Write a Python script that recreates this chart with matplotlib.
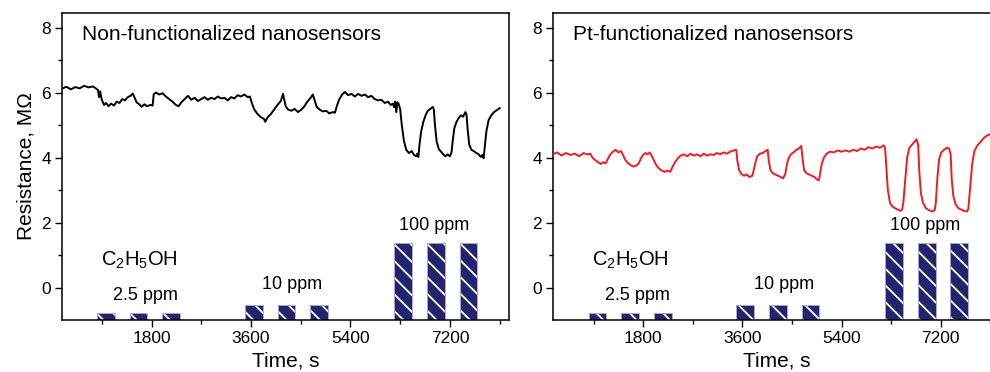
import matplotlib
matplotlib.use("Agg")
import matplotlib.pyplot as plt

plt.rcParams["font.family"] = ["Liberation Sans", "DejaVu Sans"]
plt.rcParams["mathtext.fontset"] = "custom"
plt.rcParams["mathtext.rm"] = "Liberation Sans"
plt.rcParams["mathtext.it"] = "Liberation Sans"
plt.rcParams["hatch.linewidth"] = 1.3

# gas pulses (start time, s) and bar tops (arb. units on the resistance axis)
pulse_start = [815, 1405, 1995, 3490, 4085, 4675, 6190, 6785, 7375]
pulse_len = 320
pulse_top = [-0.77, -0.77, -0.77, -0.53, -0.53, -0.53, 1.37, 1.37, 1.37]

# non-functionalized sensor
t_bare = [180, 260, 340, 420, 500, 580, 660, 740, 800, 830, 850, 870, 900, 940, 980,
          1020, 1070, 1120, 1170, 1220, 1270, 1320, 1370, 1420, 1460, 1490, 1530, 1580,
          1620, 1670, 1720, 1780, 1820, 1840, 1880, 1940, 2000, 2060, 2120, 2180, 2240,
          2290, 2340, 2400, 2460, 2520, 2580, 2640, 2700, 2760, 2820, 2880, 2940, 3000,
          3060, 3120, 3180, 3240, 3300, 3360, 3420, 3480, 3540, 3580, 3620, 3660, 3720,
          3780, 3830, 3860, 3900, 3960, 4020, 4080, 4140, 4180, 4200, 4230, 4270, 4330,
          4390, 4450, 4500, 4560, 4620, 4680, 4720, 4750, 4790, 4840, 4900, 4960, 5020,
          5080, 5120, 5160, 5200, 5250, 5300, 5360, 5420, 5480, 5540, 5600, 5660, 5720,
          5780, 5840, 5900, 5960, 6020, 6080, 6130, 6170, 6190, 6210, 6230, 6250, 6270,
          6300, 6330, 6370, 6410, 6460, 6510, 6550, 6590, 6610, 6630, 6650, 6680, 6720,
          6760, 6800, 6850, 6890, 6910, 6930, 6960, 7000, 7040, 7080, 7120, 7160, 7200,
          7230, 7250, 7280, 7320, 7360, 7400, 7440, 7480, 7500, 7520, 7550, 7590, 7630,
          7680, 7720, 7760, 7790, 7810, 7830, 7860, 7900, 7950, 8000, 8050, 8100]
r_bare = [6.12, 6.18, 6.10, 6.17, 6.13, 6.21, 6.16, 6.19, 6.12, 6.08, 5.86, 6.04, 5.78, 5.62, 5.68,
          5.58, 5.66, 5.60, 5.72, 5.68, 5.80, 5.76, 5.86, 5.90, 5.97, 5.86, 5.70, 5.64,
          5.56, 5.64, 5.58, 5.62, 5.60, 5.95, 6.00, 5.94, 5.98, 5.88, 5.80, 5.72, 5.62,
          5.58, 5.70, 5.80, 5.90, 5.78, 5.84, 5.74, 5.80, 5.86, 5.78, 5.84, 5.80, 5.88,
          5.82, 5.84, 5.76, 5.86, 5.82, 5.92, 5.88, 5.94, 5.86, 5.88, 5.66, 5.48, 5.34,
          5.24, 5.20, 5.10, 5.24, 5.34, 5.48, 5.62, 5.74, 5.96, 5.80, 5.58, 5.48, 5.44,
          5.50, 5.40, 5.46, 5.56, 5.72, 5.84, 5.94, 5.78, 5.56, 5.48, 5.42, 5.44, 5.36,
          5.40, 5.38, 5.62, 5.80, 5.94, 6.02, 5.92, 5.96, 5.88, 5.96, 5.90, 5.94, 5.86,
          5.90, 5.80, 5.76, 5.78, 5.68, 5.72, 5.62, 5.66, 5.55, 5.72, 5.40, 5.70, 5.66,
          5.50, 5.00, 4.50, 4.24, 4.14, 4.20, 4.08, 4.04, 4.12, 4.02, 4.40, 4.80, 5.10,
          5.30, 5.44, 5.50, 5.56, 5.48, 5.00, 4.50, 4.26, 4.18, 4.10, 4.04, 4.10, 4.04,
          4.16, 4.50, 4.90, 5.10, 5.22, 5.30, 5.26, 5.40, 5.34, 4.90, 4.40, 4.24, 4.20,
          4.14, 4.10, 4.02, 4.08, 3.98, 4.30, 4.80, 5.15, 5.30, 5.40, 5.46, 5.52]

# Pt-functionalized sensor
t_pt = [160, 240, 320, 400, 480, 560, 640, 720, 780, 840, 880, 930, 980, 1030, 1080,
        1120, 1160, 1200, 1250, 1300, 1350, 1400, 1440, 1480, 1530, 1580, 1630, 1680,
        1720, 1760, 1800, 1840, 1880, 1920, 1960, 2000, 2040, 2090, 2140, 2190, 2240,
        2290, 2330, 2380, 2430, 2480, 2540, 2600, 2660, 2720, 2780, 2840, 2900, 2960,
        3020, 3080, 3140, 3200, 3260, 3320, 3380, 3440, 3490, 3510, 3540, 3580, 3630,
        3680, 3730, 3780, 3800, 3830, 3870, 3920, 3970, 4020, 4060, 4080, 4110, 4150,
        4200, 4250, 4300, 4340, 4380, 4410, 4440, 4480, 4530, 4580, 4630, 4670, 4690,
        4720, 4760, 4810, 4860, 4910, 4960, 4990, 5010, 5040, 5080, 5130, 5190, 5260,
        5330, 5400, 5470, 5540, 5610, 5680, 5750, 5820, 5890, 5960, 6030, 6100, 6160,
        6190, 6210, 6240, 6280, 6320, 6370, 6420, 6470, 6500, 6520, 6550, 6590, 6630,
        6680, 6730, 6760, 6790, 6810, 6840, 6880, 6930, 6990, 7040, 7090, 7110, 7140,
        7170, 7210, 7260, 7310, 7350, 7380, 7400, 7430, 7470, 7520, 7570, 7620, 7680,
        7700, 7730, 7770, 7810, 7860, 7920, 7980, 8040, 8100, 8160, 8220]
r_pt = [4.10, 4.16, 4.06, 4.14, 4.08, 4.12, 4.04, 4.14, 4.10, 4.12, 4.00, 3.92, 3.86, 3.80, 3.86,
        3.82, 3.96, 4.08, 4.18, 4.24, 4.16, 4.20, 4.06, 3.92, 3.82, 3.76, 3.72, 3.76,
        3.82, 3.98, 4.08, 4.14, 4.10, 4.16, 4.04, 3.90, 3.76, 3.66, 3.60, 3.56, 3.60,
        3.56, 3.70, 3.86, 3.98, 4.06, 4.10, 4.04, 4.12, 4.06, 4.10, 4.04, 4.12, 4.06,
        4.10, 4.08, 4.14, 4.10, 4.16, 4.12, 4.18, 4.22, 4.24, 3.90, 3.62, 3.50, 3.44,
        3.48, 3.40, 3.44, 3.56, 3.80, 4.04, 4.12, 4.14, 4.20, 4.24, 3.90, 3.62, 3.52,
        3.48, 3.44, 3.40, 3.36, 3.50, 3.80, 3.98, 4.10, 4.16, 4.24, 4.28, 4.36, 4.00,
        3.62, 3.52, 3.48, 3.44, 3.40, 3.32, 3.30, 3.50, 3.80, 4.00, 4.12, 4.18, 4.16,
        4.22, 4.18, 4.22, 4.18, 4.24, 4.20, 4.28, 4.24, 4.32, 4.28, 4.34, 4.30, 4.38,
        4.30, 3.80, 3.00, 2.60, 2.50, 2.44, 2.40, 2.36, 2.40, 2.60, 3.20, 4.00, 4.30,
        4.40, 4.50, 4.56, 4.40, 3.60, 2.90, 2.60, 2.44, 2.38, 2.34, 2.38, 2.60, 3.40,
        3.95, 4.16, 4.24, 4.30, 4.28, 4.10, 3.30, 2.80, 2.56, 2.44, 2.40, 2.36, 2.34,
        2.42, 3.00, 3.80, 4.20, 4.36, 4.48, 4.60, 4.68, 4.72, 4.80, 4.84]

panels = [
    ("Non-functionalized nanosensors", t_bare, r_bare, "black", (180, 8270)),
    ("Pt-functionalized nanosensors", t_pt, r_pt, "#ee1c24", (165, 8275)),
]
ymin, ymax = -1.0, 8.45
navy = "#23246f"

fig = plt.figure(figsize=(9.9, 3.72), dpi=100)
lefts = [62 / 990, 553 / 990]

for i, (title, t, r, col, xl) in enumerate(panels):
    ax = fig.add_axes([lefts[i], 52 / 372, 447 / 990, 307 / 372])
    heights = [h - ymin for h in pulse_top]
    ax.bar(pulse_start, heights, width=pulse_len, bottom=ymin, align="edge",
           color=navy, edgecolor="white", hatch="\\\\", linewidth=0, zorder=2)
    ax.bar(pulse_start, heights, width=pulse_len, bottom=ymin, align="edge",
           fill=False, edgecolor="#a8a8d0", linewidth=0.7, zorder=2)
    ax.plot(t, r, color=col, lw=1.4, zorder=3)

    ax.set_xlim(*xl)
    ax.set_ylim(ymin, ymax)
    ax.set_xticks([1800, 3600, 5400, 7200])
    ax.set_xticks([900, 2700, 4500, 6300, 8100], minor=True)
    ax.set_yticks([0, 2, 4, 6, 8])
    ax.set_yticks([1, 3, 5, 7], minor=True)
    ax.tick_params(which="major", direction="out", length=5, width=1, labelsize=12.5, pad=3)
    ax.tick_params(which="minor", direction="out", length=3, width=1)
    for s in ax.spines.values():
        s.set_linewidth(1.1)

    ax.text(0.045, 0.93, title, transform=ax.transAxes, fontsize=15, va="center")
    ax.text(880, 0.85, "C$_2$H$_5$OH", fontsize=14.5, va="center")
    ax.text(1690, -0.24, "2.5 ppm", fontsize=13, ha="center", va="center")
    ax.text(4350, 0.08, "10 ppm", fontsize=13, ha="center", va="center")
    ax.text(6920, 1.9, "100 ppm", fontsize=13, ha="center", va="center")
    ax.set_xlabel("Time, s", fontsize=15, labelpad=4)
    if i == 0:
        ax.set_ylabel("Resistance, M\u03a9", fontsize=15, labelpad=4)

fig.savefig("out.png", dpi=100)
